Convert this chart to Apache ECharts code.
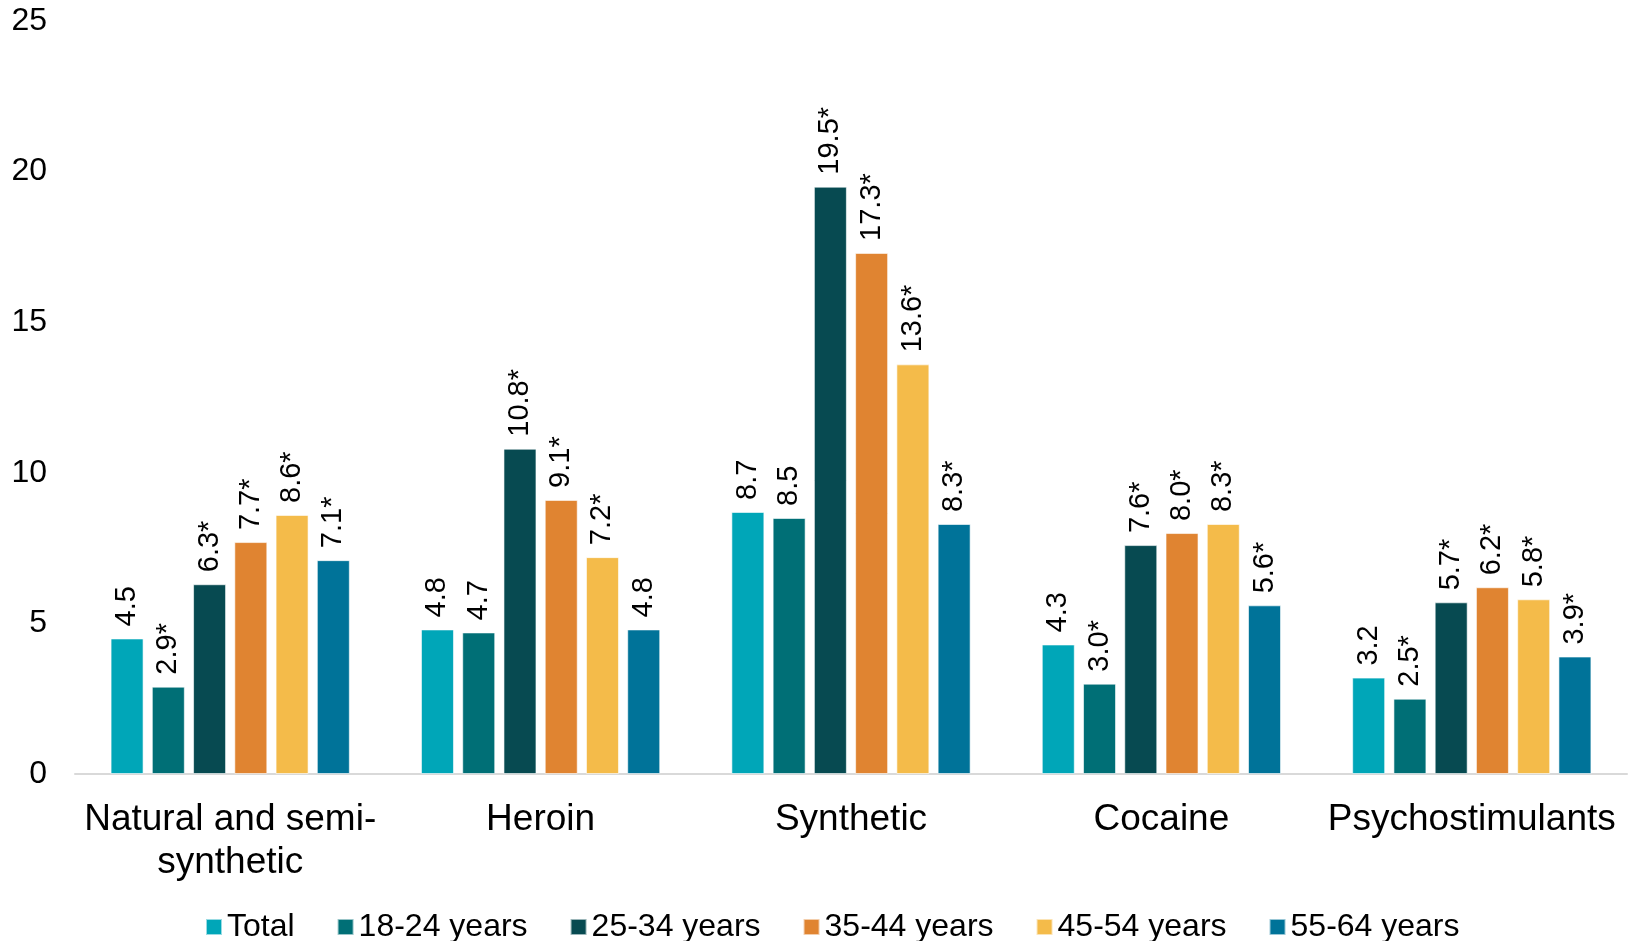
<!DOCTYPE html>
<html>
<head>
<meta charset="utf-8">
<script src="https://cdn.jsdelivr.net/npm/echarts@6/dist/echarts.min.js"></script>
<style>
html,body{margin:0;padding:0;background:#fff;}
#chart{width:1635px;height:941px;}
</style>
</head>
<body>
<div id="chart"></div>
<script>
const categories = ['Natural and semi-\nsynthetic', 'Heroin', 'Synthetic', 'Cocaine', 'Psychostimulants'];
const seriesNames = ['Total', '18-24 years', '25-34 years', '35-44 years', '45-54 years', '55-64 years'];
const colors = ['#00A6B8', '#006F76', '#074A51', '#E08431', '#F4BB4A', '#007399'];
const total    = [4.5, 4.8, 8.7, 4.3, 3.2];
const age18_24 = [2.9, 4.7, 8.5, 3.0, 2.5];
const age25_34 = [6.3, 10.8, 19.5, 7.6, 5.7];
const age35_44 = [7.7, 9.1, 17.3, 8.0, 6.2];
const age45_54 = [8.6, 7.2, 13.6, 8.3, 5.8];
const age55_64 = [7.1, 4.8, 8.3, 5.6, 3.9];
const sig_total    = [false, false, false, false, false];
const sig_18_24    = [true, false, false, true, true];
const sig_25_34    = [true, true, true, true, true];
const sig_35_44    = [true, true, true, true, true];
const sig_45_54    = [true, true, true, true, true];
const sig_55_64    = [true, false, true, true, true];
const yTicks = [0, 5, 10, 15, 20, 25];

const allValues = [total, age18_24, age25_34, age35_44, age45_54, age55_64];
const allSig = [sig_total, sig_18_24, sig_25_34, sig_35_44, sig_45_54, sig_55_64];
const FONT = '"Liberation Sans", Arial, sans-serif';

const chart = echarts.init(document.getElementById('chart'));
chart.setOption({
  animation: false,
  backgroundColor: '#fff',
  textStyle: { fontFamily: FONT },
  grid: { left: 75, right: 8, top: 21, bottom: 167 },
  legend: {
    left: 200, top: 906,
    itemWidth: 16, itemHeight: 16, itemGap: 42,
    icon: 'rect',
    textStyle: { fontFamily: FONT, fontSize: 32, color: '#000' },
    data: seriesNames
  },
  xAxis: {
    type: 'category',
    data: categories,
    axisLine: { lineStyle: { color: '#d9d9d9', width: 2 } },
    axisTick: { show: false },
    axisLabel: { fontFamily: FONT, fontSize: 37, color: '#000', lineHeight: 43, margin: 24, interval: 0 }
  },
  yAxis: {
    type: 'value',
    min: yTicks[0], max: yTicks[yTicks.length - 1], interval: 5,
    splitLine: { show: false },
    axisLine: { show: false },
    axisTick: { show: false },
    axisLabel: { fontFamily: FONT, fontSize: 32, color: '#000', margin: 28 }
  },
  series: seriesNames.map((name, i) => ({
    name: name,
    type: 'bar',
    data: allValues[i],
    barWidth: 33,
    barGap: '25%',
    itemStyle: { color: colors[i], borderColor: 'rgba(255,255,255,0.6)', borderWidth: 1 },
    label: {
      show: true,
      position: 'top',
      rotate: 90,
      align: 'left',
      verticalAlign: 'middle',
      distance: 12,
      fontFamily: FONT,
      fontSize: 29,
      color: '#000',
      formatter: p => p.value.toFixed(1) + (allSig[i][p.dataIndex] ? '*' : '')
    }
  }))
});
</script>
</body>
</html>
